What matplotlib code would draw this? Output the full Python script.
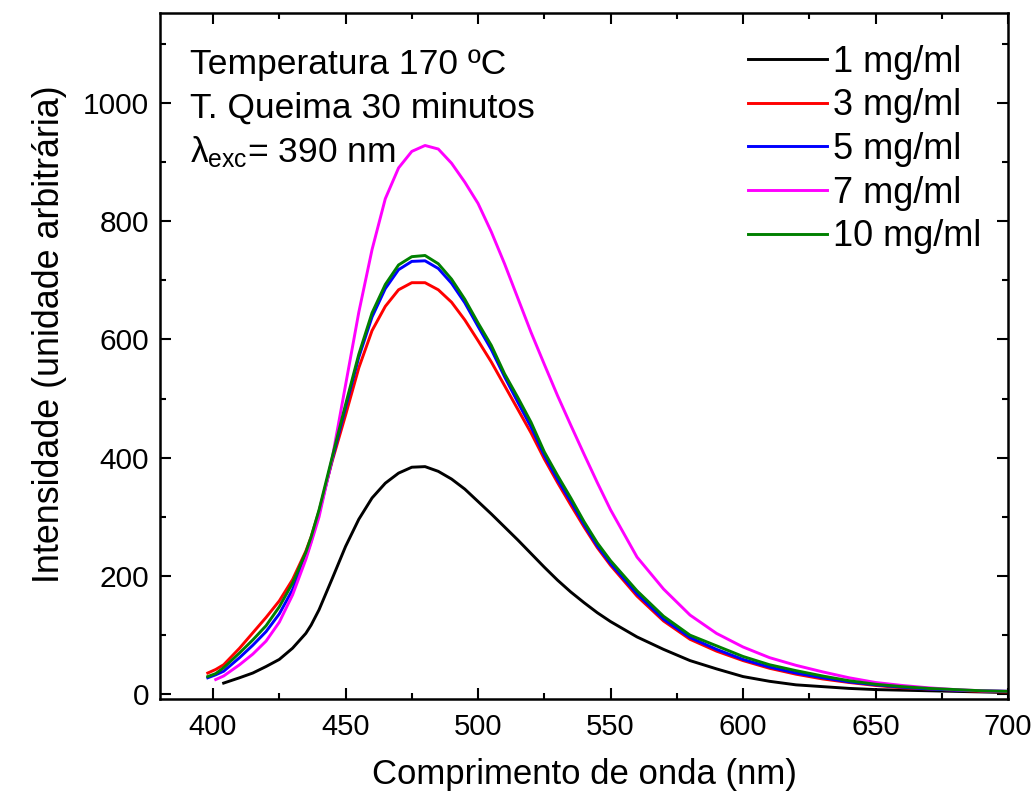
import numpy as np
import matplotlib
matplotlib.use("Agg")
import matplotlib.pyplot as plt
from matplotlib.ticker import MultipleLocator
from matplotlib import font_manager

# ---------------- data ----------------
nan = np.nan
wavelength = [398, 401, 404, 410, 415, 420, 425, 430, 435, 437, 440, 445, 450, 455, 460,
              465, 470, 475, 480, 485, 490, 495, 500, 505, 510, 515, 520, 525, 530,
              535, 540, 545, 550, 560, 570, 580, 590, 600, 610, 620, 630, 640, 650,
              660, 670, 680, 690, 700]

int_1 = [nan, nan, 19, 28, 36, 47, 59, 78, 103, 117, 143, 196, 250, 296, 332,
         357, 374, 384, 385, 377, 364, 347, 326, 305, 283, 261, 238, 215, 193,
         173, 155, 138, 123, 97, 76, 57, 43, 30, 22, 16, 13, 10, 8,
         7, 6, 5, 4, 3]
int_3 = [36, 42, 50, 78, 104, 130, 158, 194, 242, 266, 310, 395, 472, 552, 615,
         656, 684, 696, 696, 684, 663, 633, 598, 562, 522, 482, 442, 398, 358,
         320, 283, 248, 218, 166, 124, 93, 73, 57, 44, 34, 26, 20, 15,
         11, 9, 7, 5, 4]
int_5 = [28, 33, 39, 62, 83, 106, 136, 177, 232, 259, 306, 398, 485, 570, 638,
         686, 718, 732, 733, 720, 695, 662, 622, 583, 537, 494, 452, 404, 363,
         326, 287, 251, 221, 170, 127, 96, 76, 59, 46, 36, 28, 21, 16,
         12, 9, 7, 6, 5]
int_7 = [nan, 25, 31, 50, 68, 90, 122, 168, 228, 256, 300, 400, 523, 646, 752,
         838, 890, 918, 928, 922, 898, 866, 830, 782, 728, 670, 612, 558, 505,
         455, 406, 358, 312, 232, 178, 134, 103, 80, 62, 49, 38, 28, 20,
         15, 11, 8, 6, 5]
int_10 = [30, 35, 45, 70, 92, 116, 148, 188, 240, 266, 312, 402, 490, 575, 645,
          693, 726, 740, 742, 728, 702, 668, 628, 590, 542, 502, 460, 410, 370,
          332, 292, 256, 226, 175, 132, 100, 82, 64, 50, 40, 31, 23, 17,
          13, 10, 8, 6, 5]

labels = ["1 mg/ml", "3 mg/ml", "5 mg/ml", "7 mg/ml", "10 mg/ml"]
colors = ["#000000", "#FF0000", "#0000FF", "#FF00FF", "#008000"]
series = [int_1, int_3, int_5, int_7, int_10]

annot_lines = ["Temperatura 170 ºC", "T. Queima 30 minutos", r"$\lambda_{\mathrm{exc}}$= 390 nm"]

# ---------------- fonts ----------------
available = {f.name for f in font_manager.fontManager.ttflist}
main_font = "Liberation Sans" if "Liberation Sans" in available else "DejaVu Sans"

plt.rcParams["font.family"] = [main_font, "DejaVu Sans"]
plt.rcParams["mathtext.fontset"] = "custom"
plt.rcParams["mathtext.rm"] = main_font
plt.rcParams["mathtext.it"] = main_font

fig = plt.figure(figsize=(10.36, 7.98), dpi=100)
ax = fig.add_axes([0.1545, 0.124, 0.8185, 0.8597])

for y, c, lab in zip(series, colors, labels):
    ax.plot(wavelength, y, color=c, lw=2.1, label=lab)

ax.set_xlim(380, 700)
ax.set_ylim(-8, 1152)

ax.xaxis.set_major_locator(MultipleLocator(50))
ax.xaxis.set_minor_locator(MultipleLocator(25))
ax.yaxis.set_major_locator(MultipleLocator(200))
ax.yaxis.set_minor_locator(MultipleLocator(100))

ax.tick_params(which="both", direction="in", top=True, right=True, width=1.5)
ax.tick_params(which="major", length=8)
ax.tick_params(which="minor", length=4.5)
ax.tick_params(axis="y", which="major", labelsize=21.5, pad=8)
ax.tick_params(axis="x", which="major", labelsize=21, pad=10)
ax.tick_params(labeltop=False, labelright=False)

for sp in ax.spines.values():
    sp.set_linewidth(1.8)

ax.set_xlabel("Comprimento de onda (nm)", fontsize=25, labelpad=12)
ax.set_ylabel("Intensidade (unidade arbitrária)", fontsize=25.8)
ax.yaxis.set_label_coords(-0.1097, 0.532)

baselines = [0.911, 0.848, 0.783]
for t, yb in zip(annot_lines, baselines):
    ax.text(0.035, yb, t, transform=ax.transAxes, fontsize=25.5,
            va="baseline", ha="left")

leg = ax.legend(loc="upper left", frameon=False, fontsize=26, handlelength=2.2,
                handletextpad=0.15, labelspacing=0.24, borderpad=0, borderaxespad=0,
                bbox_to_anchor=(0.693, 0.954))

fig.savefig("out.png", dpi=100)
